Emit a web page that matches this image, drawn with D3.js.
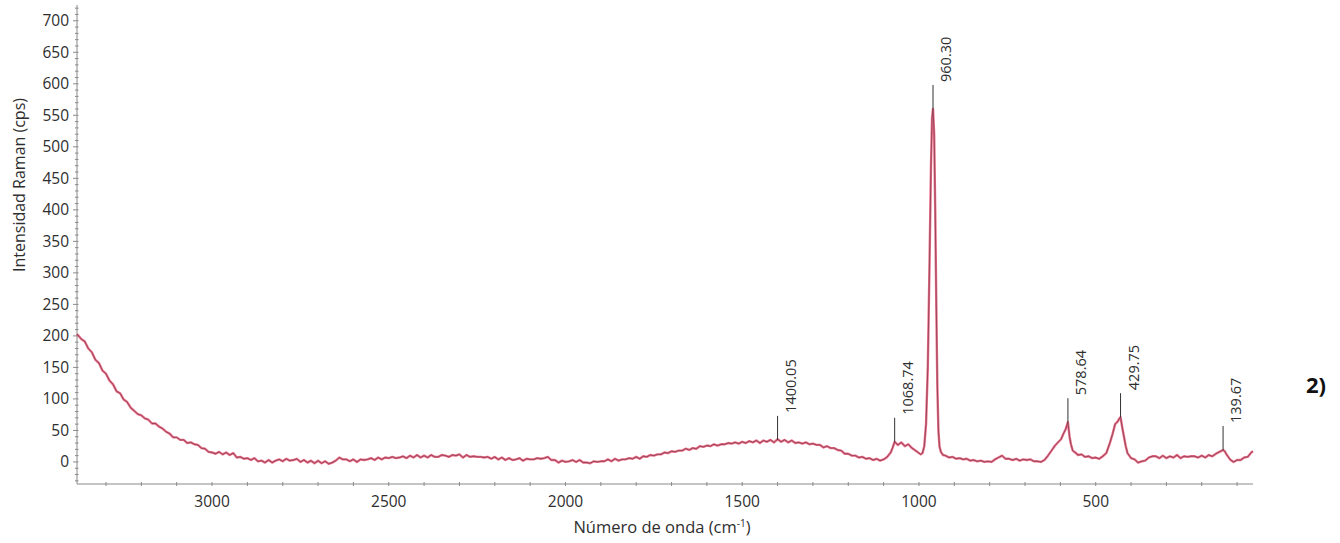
<!DOCTYPE html>
<html>
<head>
<meta charset="utf-8">
<script src="https://cdn.jsdelivr.net/npm/d3@7"></script>
<style>
  body { margin: 0; background: #fff; }
  svg text { font-family: "Open Sans", "DejaVu Sans", sans-serif; fill: #2e2e2e; }
</style>
</head>
<body>
<svg id="chart" width="1340" height="543"></svg>
<script>
// wavenumber (cm-1) and intensity (cps)
var wavenumbers = [
  3382, 3370, 3360, 3350, 3340, 3330, 3320, 3310, 3300, 3290, 3280, 3270, 3260, 3250, 3240, 3230, 3220, 3210, 3200, 3190,
  3180, 3170, 3160, 3150, 3140, 3130, 3120, 3110, 3100, 3090, 3080, 3070, 3060, 3050, 3040, 3030, 3020, 3010, 3000, 2990,
  2980, 2970, 2960, 2950, 2940, 2930, 2920, 2910, 2900, 2890, 2880, 2870, 2860, 2850, 2840, 2830, 2820, 2810, 2800, 2790,
  2780, 2770, 2760, 2750, 2740, 2730, 2720, 2710, 2700, 2690, 2680, 2670, 2660, 2650, 2640, 2630, 2620, 2610, 2600, 2590,
  2580, 2570, 2560, 2550, 2540, 2530, 2520, 2510, 2500, 2490, 2480, 2470, 2460, 2450, 2440, 2430, 2420, 2410, 2400, 2390,
  2380, 2370, 2360, 2350, 2340, 2330, 2320, 2310, 2300, 2290, 2280, 2270, 2260, 2250, 2240, 2230, 2220, 2210, 2200, 2190,
  2180, 2170, 2160, 2150, 2140, 2130, 2120, 2110, 2100, 2090, 2080, 2070, 2060, 2050, 2040, 2030, 2020, 2010, 2000, 1990,
  1980, 1970, 1960, 1950, 1940, 1930, 1920, 1910, 1900, 1890, 1880, 1870, 1860, 1850, 1840, 1830, 1820, 1810, 1800, 1790,
  1780, 1770, 1760, 1750, 1740, 1730, 1720, 1710, 1700, 1690, 1680, 1670, 1660, 1650, 1640, 1630, 1620, 1610, 1600, 1590,
  1580, 1570, 1560, 1550, 1540, 1530, 1520, 1510, 1500, 1490, 1480, 1470, 1460, 1450, 1440, 1430, 1420, 1410, 1400, 1390,
  1380, 1370, 1360, 1350, 1340, 1330, 1320, 1310, 1300, 1290, 1280, 1270, 1260, 1250, 1240, 1230, 1220, 1210, 1200, 1190,
  1180, 1170, 1160, 1150, 1140, 1130, 1120, 1110, 1100, 1090, 1080, 1075, 1068.74, 1060, 1050, 1040, 1030, 1020, 1010, 1000,
  995, 990, 985, 980, 975, 970, 966, 963, 960.3, 957, 954, 951, 948, 945, 942, 938, 932, 925, 915, 905,
  895, 885, 875, 865, 855, 845, 835, 825, 815, 805, 795, 785, 775, 765, 755, 745, 735, 725, 715, 705,
  695, 685, 675, 665, 655, 645, 635, 625, 615, 605, 598, 592, 585, 578.64, 574, 570, 565, 558, 550, 540,
  530, 520, 510, 500, 490, 480, 470, 460, 452, 445, 438, 432, 429.75, 425, 420, 415, 410, 400, 390, 380,
  370, 360, 350, 340, 330, 320, 310, 300, 290, 280, 270, 260, 250, 240, 230, 220, 210, 200, 190, 180,
  170, 160, 150, 139.67, 135, 130, 120, 110, 100, 90, 80, 70, 60, 55
];
var intensities = [
  203, 195, 191, 180, 174, 162, 157, 145, 140, 129, 123, 112, 109, 99, 95, 86, 81, 76, 74, 69,
  67, 61, 61, 56, 53, 48, 45, 39, 39, 35, 35, 30, 31, 28, 27, 22, 21, 16, 15, 13,
  16, 12, 15, 11, 14, 7, 8, 5, 6, 3, 6, 1, 2, -1, 3, -1, 2, 4, 1, 5,
  2, 3, 5, 0, 3, -1, 2, -2, 2, -2, 1, -3, -1, 2, 7, 4, 4, 1, 4, 0,
  4, 3, 4, 6, 3, 7, 4, 7, 6, 8, 6, 7, 9, 6, 10, 7, 11, 7, 10, 7,
  11, 8, 8, 11, 10, 8, 11, 10, 12, 7, 11, 8, 9, 8, 8, 7, 8, 5, 8, 4,
  7, 3, 6, 3, 4, 6, 2, 5, 4, 4, 6, 5, 6, 8, 3, 3, -1, 2, 0, 1,
  3, 0, 3, -1, -1, -2, 1, 0, 1, 1, 4, 1, 5, 2, 4, 4, 6, 5, 8, 5,
  9, 8, 11, 10, 12, 12, 15, 14, 17, 16, 18, 18, 21, 19, 22, 21, 25, 24, 26, 25,
  28, 26, 28, 28, 30, 29, 31, 29, 32, 30, 33, 31, 34, 30, 34, 32, 35, 31, 36, 32,
  35, 31, 34, 30, 31, 29, 31, 28, 29, 27, 27, 23, 25, 22, 22, 19, 18, 13, 13, 10,
  10, 7, 8, 5, 6, 3, 5, 2, 4, 8, 15, 22, 32, 27, 31, 25, 28, 22, 18, 14,
  12, 14, 25, 60, 150, 320, 470, 545, 560, 520, 400, 250, 120, 50, 25, 16, 11, 10, 7, 8,
  5, 6, 4, 5, 2, 3, 1, 2, 0, 1, 0, 4, 7, 10, 5, 5, 3, 5, 2, 4,
  3, 4, 1, 1, 0, 3, 10, 18, 26, 32, 36, 44, 52, 63, 40, 28, 18, 15, 11, 12,
  8, 9, 6, 7, 5, 9, 14, 30, 45, 60, 64, 70, 71, 55, 40, 25, 14, 6, 4, -1,
  1, 2, 7, 9, 9, 6, 10, 6, 9, 7, 11, 6, 9, 8, 9, 9, 7, 10, 7, 11,
  9, 13, 16, 19, 17, 12, 4, 0, 3, 3, 7, 8, 15, 17
];

// labelled peaks
var peakPositions = [1400.05, 1068.74, 960.30, 578.64, 429.75, 139.67];
var peakHeights   = [35, 32, 560, 63, 71, 19];
var peakLabels    = ['1400.05', '1068.74', '960.30', '578.64', '429.75', '139.67'];

var xTicks = [3000, 2500, 2000, 1500, 1000, 500];
var yTicks = [0, 50, 100, 150, 200, 250, 300, 350, 400, 450, 500, 550, 600, 650, 700];

var svg = d3.select('#chart');

var x = d3.scaleLinear().domain([3382, 55]).range([77, 1253]),
    y = d3.scaleLinear().domain([-35, 725]).range([484, 5]);

var data = wavenumbers.map(function (w, i) { return { w: w, v: intensities[i] }; });

/* axes */
var gx = svg.append('g')
            .attr('transform', 'translate(0,' + y.range()[0] + ')');
gx.append('line')
  .attr('x1', x.range()[0]).attr('x2', x.range()[1])
  .attr('stroke', '#8a8a8a');
gx.selectAll('.minor')
  .data(d3.range(3300, 55, -100))
  .enter().append('line')
    .attr('x1', function (d) { return x(d); })
    .attr('x2', function (d) { return x(d); })
    .attr('y1', -2).attr('y2', 2)
    .attr('stroke', '#8a8a8a');
gx.selectAll('.lbl')
  .data(xTicks)
  .enter().append('text')
    .attr('x', function (d) { return x(d); })
    .attr('y', 23)
    .attr('text-anchor', 'middle')
    .style('font-size', '15.5px')
    .text(function (d) { return d; });

var gy = svg.append('g')
            .attr('transform', 'translate(' + x.range()[0] + ',0)');
gy.append('line')
  .attr('y1', y.range()[0]).attr('y2', y.range()[1])
  .attr('stroke', '#8a8a8a');
gy.selectAll('.minor')
  .data(d3.range(-30, 725, 10))
  .enter().append('line')
    .attr('y1', function (d) { return y(d); })
    .attr('y2', function (d) { return y(d); })
    .attr('x1', function (d) { return d % 50 == 0 ? -4 : -2; })
    .attr('x2', 1.5)
    .attr('stroke', '#8a8a8a');
gy.selectAll('.lbl')
  .data(yTicks)
  .enter().append('text')
    .attr('x', -8)
    .attr('y', function (d) { return y(d); })
    .attr('dy', '0.35em')
    .attr('text-anchor', 'end')
    .style('font-size', '15.5px')
    .text(function (d) { return d; });

/* axis titles */
svg.append('text')
   .attr('transform', 'translate(25,185) rotate(-90)')
   .attr('text-anchor', 'middle')
   .style('font-size', '16px')
   .text('Intensidad Raman (cps)');

var xt = svg.append('text')
            .attr('x', 662).attr('y', 533)
            .attr('text-anchor', 'middle')
            .style('font-size', '16.5px');
xt.append('tspan').text('Número de onda (cm');
xt.append('tspan').attr('dy', -6).style('font-size', '10px').text('-1');
xt.append('tspan').attr('dy', 6).text(')');

/* spectrum: pink-red under-stroke with a thin dark line on top */
var line = d3.line()
             .x(function (d) { return x(d.w); })
             .y(function (d) { return y(d.v); });

svg.append('path')
   .datum(data)
   .attr('d', line)
   .attr('fill', 'none')
   .attr('stroke', '#e6476a')
   .attr('stroke-opacity', 0.8)
   .attr('stroke-width', 2.4)
   .attr('stroke-linejoin', 'round');
svg.append('path')
   .datum(data)
   .attr('d', line)
   .attr('fill', 'none')
   .attr('stroke', '#3a2228')
   .attr('stroke-opacity', 0.8)
   .attr('stroke-width', 0.6)
   .attr('stroke-linejoin', 'round');

/* peak markers */
var gp = svg.selectAll('.peak')
            .data(peakPositions)
            .enter().append('g')
              .attr('transform', function (d, i) {
                  return 'translate(' + x(d) + ',' + y(peakHeights[i]) + ')';
              });
gp.append('line')
  .attr('y1', 0).attr('y2', -24)
  .attr('stroke', '#333')
  .attr('stroke-width', 1);
gp.append('text')
  .attr('transform', 'translate(18,-27) rotate(-90)')
  .style('font-size', '14.5px')
  .text(function (d, i) { return peakLabels[i]; });

/* panel tag */
svg.append('text')
   .attr('x', 1306).attr('y', 393)
   .style('font-size', '22px')
   .style('font-weight', 'bold')
   .style('fill', '#111')
   .text('2)');
</script>
</body>
</html>
